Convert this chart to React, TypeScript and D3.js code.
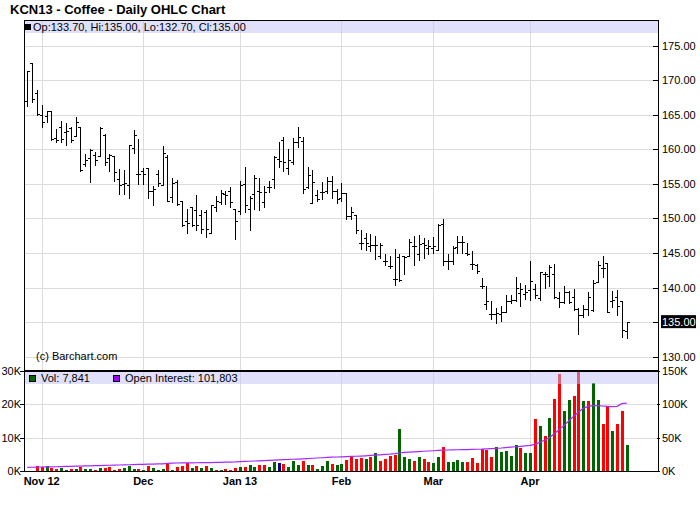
import React from "react";
import * as d3 from "d3";

// ---- Data ----
const opens = [
  167.0, 172.5, 168.1, 165.0, 164.9, 165.5, 161.6, 163.3, 162.5, 163.1,
  161.9, 163.3, 157.9, 158.8, 159.2, 159.0, 162.1, 158.7, 159.0, 155.7,
  155.0, 154.9, 160.2, 156.4, 156.8, 157.3, 154.0, 156.4, 154.9, 158.9,
  153.1, 155.3, 152.5, 149.6, 151.6, 151.2, 150.5, 150.9, 147.9, 151.6,
  152.4, 153.5, 154.0, 151.3, 151.1, 155.0, 151.3, 153.5, 154.0, 152.4,
  154.6, 155.7, 158.6, 161.3, 157.3, 158.1, 161.0, 161.2, 154.5, 152.3,
  153.4, 153.9, 154.0, 155.4, 154.0, 152.9, 153.7, 150.3, 150.5, 146.5,
  147.2, 146.0, 146.2, 144.5, 143.9, 143.1, 141.2, 144.4, 144.5, 144.5,
  146.0, 144.8, 146.5, 145.7, 145.7, 145.5, 149.2, 143.9, 143.8, 145.9,
  146.6, 145.0, 143.4, 143.2, 140.2, 137.6, 136.2, 136.2, 136.2, 136.5,
  138.1, 138.2, 139.2, 139.1, 139.6, 139.8, 138.5, 141.9, 141.7, 142.0,
  138.5, 137.9, 139.3, 138.6, 136.9, 136.1, 136.9, 136.7, 140.8, 142.9,
  143.5, 138.0, 138.7, 138.1, 133.7,
];
const highs = [
  171.4, 172.5, 168.6, 166.4, 165.6, 165.5, 162.9, 164.1, 163.8, 163.2,
  164.7, 163.3, 159.3, 160.0, 159.6, 163.3, 162.2, 159.3, 159.0, 157.2,
  157.0, 160.6, 162.8, 161.5, 157.3, 157.3, 154.7, 157.0, 160.5, 159.2,
  155.9, 155.6, 152.5, 151.3, 151.6, 153.4, 151.2, 151.2, 152.0, 153.3,
  154.1, 154.0, 154.6, 151.3, 155.4, 157.5, 153.3, 156.3, 155.8, 154.7,
  155.4, 159.1, 161.1, 161.8, 160.0, 161.7, 163.3, 161.8, 157.5, 157.0,
  154.1, 155.3, 156.0, 156.2, 154.2, 155.2, 153.7, 151.6, 150.5, 148.4,
  147.9, 147.7, 147.4, 146.5, 144.8, 144.5, 145.6, 144.9, 144.5, 147.0,
  147.4, 147.6, 147.2, 146.9, 147.3, 149.2, 149.9, 144.9, 146.0, 147.5,
  147.4, 146.4, 145.3, 143.4, 141.4, 140.2, 138.1, 137.1, 137.3, 138.9,
  139.0, 141.5, 140.7, 140.4, 143.8, 140.5, 142.3, 142.2, 143.2, 143.4,
  139.4, 140.2, 139.5, 139.8, 137.1, 137.5, 139.3, 141.1, 143.8, 144.5,
  143.6, 139.5, 139.7, 138.1, 135.0,
];
const lows = [
  166.3, 166.8, 165.0, 163.3, 164.0, 161.4, 161.1, 161.0, 160.7, 161.1,
  161.9, 156.8, 157.6, 155.3, 157.8, 159.0, 157.7, 156.8, 155.4, 153.6,
  153.5, 153.0, 159.5, 155.0, 155.0, 152.9, 152.0, 154.7, 154.9, 152.5,
  152.4, 152.0, 148.9, 147.9, 148.9, 148.4, 147.9, 147.3, 147.9, 151.1,
  152.1, 152.1, 151.6, 147.1, 150.6, 151.0, 148.4, 151.3, 151.2, 151.6,
  153.9, 154.4, 157.4, 156.9, 156.4, 157.9, 160.3, 153.7, 154.4, 152.3,
  152.5, 152.8, 153.7, 153.0, 152.3, 152.5, 149.9, 149.9, 147.9, 145.6,
  145.5, 145.3, 144.2, 144.3, 143.2, 142.8, 140.4, 140.9, 141.9, 144.5,
  143.3, 144.0, 144.3, 144.8, 145.0, 145.5, 143.3, 142.7, 143.4, 145.0,
  145.0, 144.7, 142.7, 142.1, 139.9, 136.9, 135.5, 134.9, 135.2, 136.5,
  137.8, 138.0, 137.3, 138.4, 138.2, 138.5, 138.2, 140.0, 140.2, 138.5,
  137.2, 137.8, 137.8, 136.8, 133.3, 135.8, 136.1, 136.6, 140.8, 141.6,
  136.4, 137.2, 136.0, 132.9, 132.7,
];
const closes = [
  171.4, 167.3, 165.1, 164.0, 165.5, 161.5, 161.3, 161.5, 162.7, 161.3,
  164.0, 157.0, 158.5, 159.9, 158.4, 163.1, 158.1, 159.2, 156.7, 154.8,
  155.1, 160.6, 162.1, 156.5, 156.4, 154.0, 154.2, 155.2, 159.5, 152.5,
  155.2, 152.1, 149.1, 149.4, 149.0, 149.0, 148.5, 148.5, 152.0, 152.6,
  153.7, 153.4, 152.4, 149.6, 154.9, 151.9, 153.0, 155.9, 153.9, 153.9,
  154.6, 158.9, 158.3, 158.1, 158.4, 161.0, 161.8, 154.2, 156.3, 155.3,
  152.8, 153.9, 155.4, 154.0, 152.8, 153.7, 150.3, 151.0, 148.3, 146.5,
  146.5, 146.1, 146.2, 146.2, 143.8, 143.1, 141.2, 141.1, 144.4, 146.6,
  146.0, 146.3, 146.2, 146.0, 146.0, 149.1, 143.8, 143.8, 145.8, 146.6,
  146.6, 144.8, 143.4, 142.4, 140.2, 138.0, 136.2, 136.3, 136.5, 138.1,
  138.2, 140.0, 139.8, 139.3, 140.9, 139.0, 142.2, 142.0, 143.0, 138.6,
  137.9, 139.3, 137.9, 136.9, 136.1, 136.9, 138.7, 140.7, 143.2, 142.9,
  136.5, 138.2, 137.4, 133.8, 135.0,
];
// volume in thousands of contracts
const volumes = [
  0, 0, 1.5, 1.3, 1.5, 0.8, 0.6, 0.9, 0.4, 0.6,
  0.6, 1.2, 0.6, 0.6, 0.4, 0.9, 0.9, 1.3, 0.4, 0.6,
  0.9, 1.5, 0.6, 0.6, 0.4, 1.5, 0.9, 0.4, 0.6, 2.1,
  0.4, 1.3, 1.5, 2.4, 0.9, 1.5, 0.9, 1.5, 0.9, 0.4,
  0.4, 0.6, 0.4, 0.9, 1.2, 1.2, 1.8, 1.2, 1.8, 1.8,
  1.2, 2.7, 2.4, 2.1, 1.2, 3.0, 1.8, 3.0, 1.8, 1.8,
  0.6, 1.5, 3.0, 2.1, 1.8, 2.1, 3.3, 4.3, 3.6, 3.9,
  3.6, 4.2, 5.3, 3.1, 3.6, 4.5, 4.8, 12.6, 4.2, 3.6,
  3.1, 4.2, 3.6, 2.7, 2.4, 4.2, 7.2, 2.7, 2.7, 3.3,
  2.7, 2.7, 3.9, 2.4, 6.6, 6.3, 4.2, 7.2, 5.7, 6.0,
  4.5, 7.8, 6.9, 5.4, 5.4, 15.6, 13.5, 10.5, 15.9, 21.6,
  29.1, 18.0, 21.3, 22.5, 29.7, 21.0, 21.0, 26.4, 21.3, 14.1,
  19.5, 12.0, 14.1, 18.0, 7.841,
];
// volume bar colour: g = up, r = down, n = unchanged
const volDir = [
  "n", "n", "r", "r", "g", "r", "r", "g", "g", "r",
  "g", "r", "g", "g", "r", "g", "r", "r", "r", "r",
  "g", "g", "g", "r", "g", "r", "g", "g", "g", "r",
  "g", "r", "r", "r", "g", "r", "g", "r", "g", "r",
  "g", "r", "r", "r", "g", "r", "g", "g", "r", "r",
  "g", "g", "n", "r", "g", "g", "g", "r", "g", "r",
  "g", "g", "g", "r", "g", "g", "r", "r", "r", "r",
  "g", "r", "g", "r", "r", "r", "r", "g", "g", "g",
  "r", "g", "r", "r", "g", "g", "r", "g", "g", "g",
  "g", "r", "r", "r", "r", "r", "r", "g", "g", "g",
  "g", "g", "r", "g", "g", "r", "g", "r", "g", "r",
  "r", "g", "g", "r", "r", "g", "r", "g", "g", "r",
  "r", "g", "r", "r", "g",
];
// open interest in thousands of contracts
const openInterest = [
  5.5, 5.6, 5.8, 6.0, 6.1, 6.3, 6.4, 6.6, 6.8, 7.0,
  7.2, 7.4, 7.6, 7.8, 8.0, 8.2, 8.4, 8.6, 8.8, 9.0,
  9.2, 9.4, 9.6, 9.8, 10.0, 10.2, 10.4, 10.6, 10.8, 11.4,
  11.8, 12.0, 12.1, 12.2, 12.3, 12.4, 12.5, 12.6, 12.7, 12.8,
  13.0, 13.2, 13.4, 13.6, 14.0, 14.3, 14.6, 15.0, 15.3, 15.6,
  16.0, 16.4, 16.8, 17.2, 17.3, 17.6, 17.9, 18.3, 18.7, 19.1,
  19.5, 19.9, 20.3, 20.7, 21.0, 21.3, 21.5, 21.8, 22.1, 22.4,
  22.8, 23.3, 23.8, 24.3, 24.8, 25.3, 26.0, 27.0, 27.8, 28.2,
  28.7, 29.2, 29.6, 30.0, 30.4, 30.8, 31.2, 31.5, 31.7, 31.9,
  32.0, 32.2, 32.4, 32.6, 32.8, 33.2, 33.6, 34.0, 34.5, 35.2,
  35.8, 36.4, 37.0, 37.6, 38.5, 40.0, 43.0, 46.0, 50.0, 56.0,
  62.0, 68.0, 75.0, 82.0, 88.0, 94.0, 97.0, 98.0, 98.0, 97.5,
  97.0, 96.5, 97.0, 101.0, 101.803,
];
const monthLabels = ["Nov 12", "Dec", "Jan 13", "Feb", "Mar", "Apr"];
const monthIndex = [3, 24, 44, 65, 84, 104];
const priceTicks = [130, 135, 140, 145, 150, 155, 160, 165, 170, 175];
const volTicks = [0, 10, 20, 30];
const volTickLabels = ["0K", "10K", "20K", "30K"];
const oiTicks = [0, 50, 100, 150];
const oiTickLabels = ["0K", "50K", "100K", "150K"];

const FONT = "'Liberation Sans', Arial, sans-serif";

export default function App() {
  const W = 700, H = 512;
  const L = 24, R = 658, T = 20, PB = 371, VB = 471;
  const n = closes.length;

  const x = d3.scaleLinear().domain([0, n - 1]).range([27.2, 626.7]);
  const yP = d3.scaleLinear().domain([130, 175]).range([356.7, 45.7]);
  const yV = d3.scaleLinear().domain([0, 30]).range([VB, PB]);
  const yOI = d3.scaleLinear().domain([0, 150]).range([VB, PB]);

  const px = (i: number) => Math.round(x(i)) + 0.5;
  const py = (v: number) => Math.round(yP(v)) + 0.5;

  const barPath = d3.range(n).map((i) => {
    const cx = px(i);
    return `M${cx},${Math.round(yP(highs[i]))}V${Math.round(yP(lows[i])) + 1}` +
      `M${cx - 2.5},${py(opens[i])}H${cx}` +
      `M${cx},${py(closes[i])}H${cx + 2.5}`;
  }).join("");

  const oiLine = d3.line<number>()
    .x((d, i) => x(i))
    .y((d) => yOI(d))(openInterest) || "";

  const volColor = (c: string) => (c === "g" ? "#006400" : c === "r" ? "#FF0000" : "#000080");
  const last = n - 1;
  const fmt2 = (v: number) => v.toFixed(2);
  const grid = "#DCDCDC";
  const bandFill = "rgb(193,193,245)";

  return (
    <div style={{ position: "absolute", left: 0, top: 0 }}>
      <svg width={W} height={H} style={{ display: "block", background: "#fff" }} fontFamily={FONT}>
        <rect x={0} y={0} width={W} height={H} fill="#fff" />
        {/* title */}
        <text x={10} y={14} fontSize={13} fontWeight="bold" fill="#000">KCN13 - Coffee - Daily OHLC Chart</text>

        {/* price gridlines */}
        {priceTicks.map((p) => (
          <line key={"pg" + p} x1={L} x2={R} y1={py(p)} y2={py(p)} stroke={grid} strokeWidth={1} shapeRendering="crispEdges" />
        ))}
        {/* volume gridlines */}
        {volTicks.slice(1, 3).map((v) => (
          <line key={"vg" + v} x1={L} x2={R} y1={Math.round(yV(v)) + 0.5} y2={Math.round(yV(v)) + 0.5} stroke={grid} strokeWidth={1} shapeRendering="crispEdges" />
        ))}
        {/* month gridlines */}
        {monthIndex.map((m) => (
          <line key={"mg" + m} x1={px(m)} x2={px(m)} y1={T} y2={VB} stroke={grid} strokeWidth={1} shapeRendering="crispEdges" />
        ))}

        {/* volume bars */}
        {volumes.map((v, i) => (v > 0 ? (
          <rect key={"v" + i} x={Math.round(x(i)) - 1} y={yV(v)} width={3} height={VB - yV(v)} fill={volColor(volDir[i])} shapeRendering="crispEdges" />
        ) : null))}
        {/* open interest */}
        <path d={oiLine} fill="none" stroke="#A52AFF" strokeWidth={1.2} />

        {/* legend bands (semi-transparent) */}
        <rect x={L} y={T} width={R - L} height={13} fill={bandFill} opacity={0.5} />
        <rect x={L} y={PB + 1} width={R - L} height={12} fill={bandFill} opacity={0.5} />

        {/* price legend */}
        <rect x={25} y={24} width={6} height={6} fill="#000" />
        <text x={33} y={30.5} fontSize={11} fill="#000">
          {`Op:${fmt2(opens[last])}, Hi:${fmt2(highs[last])}, Lo:${fmt2(lows[last])}, Cl:${fmt2(closes[last])}`}
        </text>
        {/* volume legend */}
        <rect x={29.5} y={375.5} width={6} height={6} fill="#006400" stroke="#000" strokeWidth={1} />
        <text x={41} y={382} fontSize={11} fill="#000">{`Vol: ${d3.format(",")(Math.round(volumes[last] * 1000))}`}</text>
        <rect x={113.5} y={375.5} width={6} height={6} fill="#9900FF" stroke="#000" strokeWidth={1} />
        <text x={125} y={382} fontSize={11} fill="#000">{`Open Interest: ${d3.format(",")(Math.round(openInterest[last] * 1000))}`}</text>

        {/* OHLC bars */}
        <path d={barPath} fill="none" stroke="#000" strokeWidth={1} shapeRendering="crispEdges" />

        <text x={36} y={360} fontSize={11} fill="#000">(c) Barchart.com</text>

        {/* frames */}
        <rect x={L + 0.5} y={T + 0.5} width={R - L} height={VB - T} fill="none" stroke="#000" strokeWidth={1} shapeRendering="crispEdges" />
        <line x1={L} x2={R + 1} y1={PB} y2={PB} stroke="#000" strokeWidth={2} shapeRendering="crispEdges" />

        {/* price axis */}
        {priceTicks.map((p) => (
          <g key={"pt" + p}>
            <line x1={R - 5} x2={R + 1} y1={py(p)} y2={py(p)} stroke="#000" shapeRendering="crispEdges" />
            <text x={662} y={yP(p) + 4} fontSize={11} fill="#000">{fmt2(p)}</text>
          </g>
        ))}
        {/* last price marker */}
        <rect x={661} y={yP(closes[last]) - 7} width={35} height={13} fill="#000" />
        <text x={662} y={yP(closes[last]) + 4} fontSize={11} fill="#fff">{fmt2(closes[last])}</text>

        {/* volume axis (left) */}
        {volTicks.map((v, k) => (
          <g key={"vt" + v}>
            <line x1={L - 4} x2={L} y1={Math.round(yV(v)) + 0.5} y2={Math.round(yV(v)) + 0.5} stroke="#000" shapeRendering="crispEdges" />
            <text x={L - 3} y={yV(v) + 4} fontSize={11} textAnchor="end" fill="#000">{volTickLabels[k]}</text>
          </g>
        ))}
        {/* open interest axis (right) */}
        {oiTicks.map((v, k) => (
          <g key={"ot" + v}>
            <line x1={R - 1} x2={R + 2} y1={Math.round(yOI(v)) + 0.5} y2={Math.round(yOI(v)) + 0.5} stroke="#000" shapeRendering="crispEdges" />
            <text x={662} y={yOI(v) + 4} fontSize={11} fill="#000">{oiTickLabels[k]}</text>
          </g>
        ))}

        {/* month labels */}
        {monthIndex.map((m, k) => (
          <text key={"ml" + m} x={x(m)} y={485} fontSize={11} fontWeight="bold" textAnchor="middle" fill="#000">{monthLabels[k]}</text>
        ))}
      </svg>
    </div>
  );
}
